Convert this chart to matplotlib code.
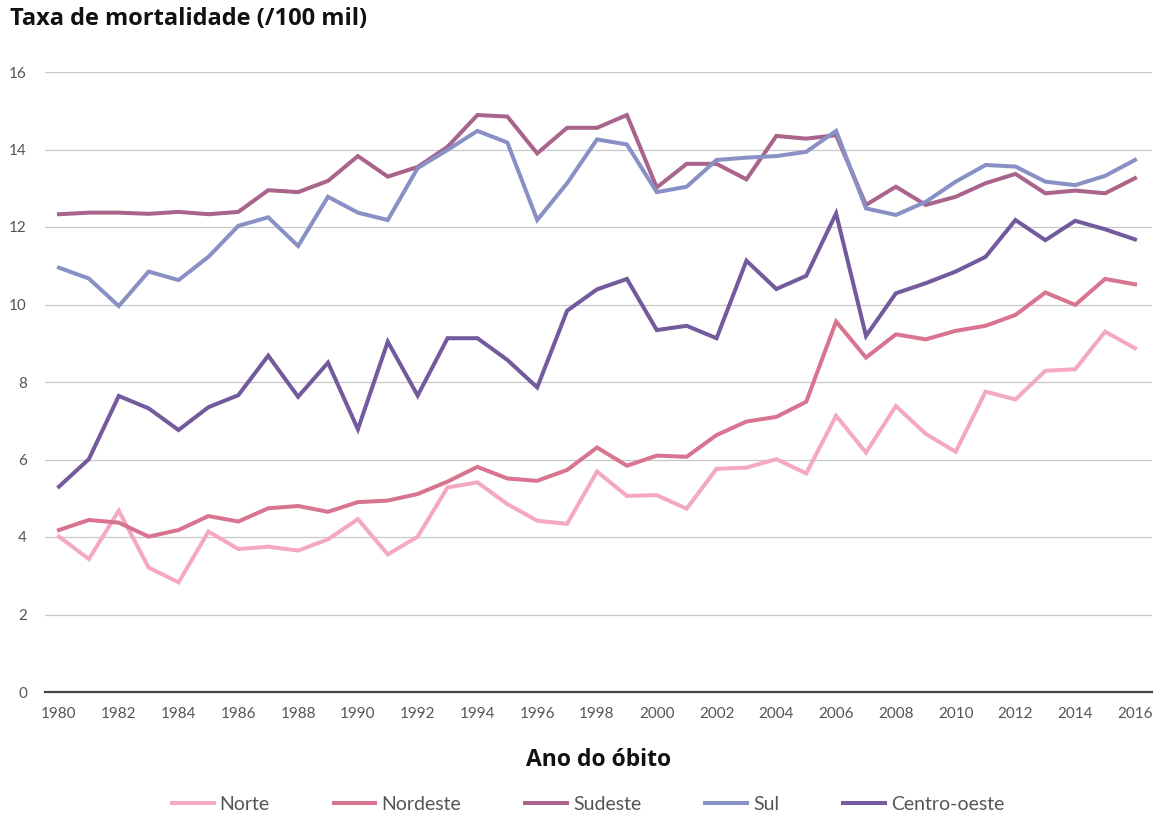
import matplotlib
matplotlib.use("Agg")
import matplotlib.pyplot as plt

years = list(range(1980, 2017))

norte = [4.01, 3.43, 4.68, 3.21, 2.83, 4.14, 3.69, 3.75, 3.65, 3.94, 4.46, 3.55, 4.01,
         5.28, 5.41, 4.85, 4.42, 4.34, 5.69, 5.06, 5.08, 4.73, 5.76, 5.79, 6.01, 5.64,
         7.13, 6.18, 7.38, 6.66, 6.20, 7.75, 7.55, 8.29, 8.33, 9.30, 8.87]
nordeste = [4.18, 4.44, 4.37, 4.01, 4.18, 4.54, 4.40, 4.74, 4.80, 4.65, 4.90, 4.94, 5.11,
            5.43, 5.81, 5.51, 5.45, 5.73, 6.31, 5.84, 6.10, 6.07, 6.63, 6.98, 7.10, 7.49,
            9.56, 8.63, 9.23, 9.10, 9.32, 9.45, 9.73, 10.31, 9.99, 10.66, 10.52]
sudeste = [12.33, 12.37, 12.37, 12.34, 12.39, 12.33, 12.39, 12.95, 12.90, 13.19, 13.83, 13.30, 13.55,
           14.07, 14.89, 14.85, 13.90, 14.56, 14.56, 14.89, 13.02, 13.63, 13.63, 13.23, 14.35, 14.28,
           14.37, 12.57, 13.04, 12.57, 12.78, 13.13, 13.37, 12.87, 12.94, 12.87, 13.26]
sul = [10.95, 10.67, 9.96, 10.85, 10.63, 11.23, 12.03, 12.25, 11.51, 12.78, 12.37, 12.18, 13.52,
       13.99, 14.48, 14.18, 12.18, 13.13, 14.26, 14.13, 12.90, 13.04, 13.73, 13.79, 13.83, 13.94,
       14.48, 12.48, 12.31, 12.65, 13.17, 13.60, 13.56, 13.17, 13.08, 13.32, 13.73]
centro_oeste = [5.30, 6.01, 7.64, 7.32, 6.76, 7.35, 7.66, 8.68, 7.62, 8.50, 6.78, 9.04, 7.65,
                9.13, 9.13, 8.57, 7.86, 9.84, 10.39, 10.66, 9.34, 9.45, 9.13, 11.13, 10.40, 10.74,
                12.35, 9.19, 10.29, 10.55, 10.85, 11.23, 12.18, 11.66, 12.16, 11.94, 11.68]

series_names = ["Norte", "Nordeste", "Sudeste", "Sul", "Centro-oeste"]
series_values = [norte, nordeste, sudeste, sul, centro_oeste]
colors = ["#F4A8C3", "#D8748F", "#A8648A", "#8890C5", "#735A9D"]

xticks = list(range(1980, 2017, 2))
yticks = list(range(0, 17, 2))

plt.rcParams['font.family'] = ['Lato', 'DejaVu Sans']

W, H = 1158, 815
fig = plt.figure(figsize=(W / 100, H / 100), dpi=100)
ax = fig.add_axes([45 / W, 1 - 692 / H, (1152 - 45) / W, (692 - 72) / H])

for name, vals, c in zip(series_names, series_values, colors):
    ax.plot(years, vals, color=c, lw=2.9, label=name, solid_joinstyle='miter', zorder=3)

ax.set_xlim(1980 - 14 / 29.9, 2016 + 17 / 29.9)
ax.set_ylim(0, 16)
ax.set_xticks(xticks)
ax.set_xticklabels([str(x) for x in xticks])
ax.set_yticks(yticks)
ax.set_yticklabels([str(y) for y in yticks])
ax.tick_params(axis='both', length=0, labelsize=11, labelcolor='#555555')
ax.tick_params(axis='y', pad=13)
ax.tick_params(axis='x', pad=11)
ax.grid(axis='y', color='#c8c8c8', lw=0.9, zorder=0)
for s in ['top', 'right', 'left']:
    ax.spines[s].set_visible(False)
ax.spines['bottom'].set_color('#444444')
ax.spines['bottom'].set_linewidth(1.6)

fig.text(10 / W, 1 - 19 / H, "Taxa de mortalidade (/100 mil)", fontsize=17,
         fontweight='bold', family=['Open Sans', 'DejaVu Sans'],
         ha='left', va='center', color='#111111')
fig.text(599 / W, 1 - 760 / H, "Ano do óbito", fontsize=16.5, fontweight='bold',
         family=['Open Sans', 'DejaVu Sans'],
         ha='center', va='center', color='#111111')

fig.legend(loc='center', bbox_to_anchor=(588 / W, 1 - 804 / H), ncol=5, frameon=False,
           fontsize=14, handlelength=2.15, handletextpad=0.3, columnspacing=3.3,
           labelcolor='#555555')

fig.savefig("out.png", dpi=100, facecolor='white')
